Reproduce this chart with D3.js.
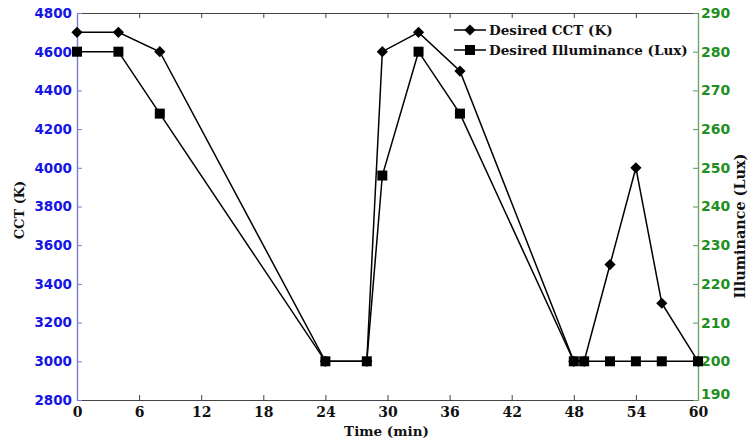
<!DOCTYPE html>
<html>
<head>
<meta charset="utf-8">
<script src="https://cdn.jsdelivr.net/npm/d3@7"></script>
<style>
  html, body { margin: 0; padding: 0; background: #fff; }
  svg { display: block; }
</style>
</head>
<body>
<svg id="chart" width="748" height="443"></svg>
<script>
// Time of each set-point (minutes)
const timeMin = [0, 4, 8, 24, 28, 29.5, 33, 37, 48, 49, 51.5, 54, 56.5, 60];
// Desired correlated colour temperature (K)
const cctK = [4700, 4700, 4600, 3000, 3000, 4600, 4700, 4500, 3000, 3000, 3500, 4000, 3300, 3000];
// Desired illuminance (lux)
const luxValues = [280, 280, 264, 200, 200, 248, 280, 264, 200, 200, 200, 200, 200, 200];

const xTicks = [0, 6, 12, 18, 24, 30, 36, 42, 48, 54, 60];
const cctTicks = [2800, 3000, 3200, 3400, 3600, 3800, 4000, 4200, 4400, 4600, 4800];
const luxTicks = [190, 200, 210, 220, 230, 240, 250, 260, 270, 280, 290];

const legendLabels = ["Desired CCT (K)", "Desired Illuminance (Lux)"];

const plot = { left: 77, right: 698, top: 13, bottom: 400 };

const svg = d3.select("#chart");

const x = d3.scaleLinear().domain([0, 60]).range([plot.left, plot.right]);
const yL = d3.scaleLinear().domain([2800, 4800]).range([plot.bottom, plot.top]);
const yR = d3.scaleLinear().domain([190, 290]).range([plot.bottom, plot.top]);

const serif = "'DejaVu Serif', 'Liberation Serif', serif";
const sans = "'DejaVu Sans', Verdana, sans-serif";
const blue = "#1515e6";
const green = "#1f8f1f";
const plain = d3.format("d");

// Bottom axis (ticks pointing inward)
const gx = svg.append("g")
  .attr("transform", `translate(0,${plot.bottom})`)
  .call(d3.axisBottom(x).tickValues(xTicks).tickFormat(plain)
    .tickSizeInner(-5).tickSizeOuter(0).tickPadding(4));
gx.select(".domain").attr("stroke", "#444").attr("stroke-width", 1.2);
gx.selectAll(".tick line").attr("stroke", "#444");
gx.selectAll(".tick text")
  .attr("font-family", serif).attr("font-weight", "bold").attr("font-size", 14)
  .attr("fill", "#111").attr("dy", "0.95em");

// Top border with mirrored ticks
const gxt = svg.append("g")
  .attr("transform", `translate(0,${plot.top})`)
  .call(d3.axisTop(x).tickValues(xTicks).tickSizeInner(-5).tickSizeOuter(0).tickFormat(""));
gxt.select(".domain").attr("stroke", "#444").attr("stroke-width", 1.2);
gxt.selectAll(".tick line").attr("stroke", "#444");

// Left axis: CCT
const gl = svg.append("g")
  .attr("transform", `translate(${plot.left},0)`)
  .call(d3.axisLeft(yL).tickValues(cctTicks).tickFormat(plain)
    .tickSizeInner(-5).tickSizeOuter(0).tickPadding(5));
gl.select(".domain").attr("stroke", "#7b7bd6").attr("stroke-width", 1.4);
gl.selectAll(".tick line").attr("stroke", "#7b7bd6");
gl.selectAll(".tick text")
  .attr("font-family", sans).attr("font-weight", "bold").attr("font-size", 13.5)
  .attr("fill", blue);

// Right axis: illuminance
const gr = svg.append("g")
  .attr("transform", `translate(${plot.right},0)`)
  .call(d3.axisRight(yR).tickValues(luxTicks).tickFormat(plain)
    .tickSizeInner(-5).tickSizeOuter(0).tickPadding(3));
gr.select(".domain").attr("stroke", "#6aa86a").attr("stroke-width", 1.4);
gr.selectAll(".tick line").attr("stroke", "#5a985a");
gr.selectAll(".tick text")
  .attr("font-family", sans).attr("font-weight", "bold").attr("font-size", 14)
  .attr("fill", green);
// lowest label sits a little above its tick, clear of the time axis labels
gr.selectAll(".tick text").filter(d => d === 190).attr("y", -6);

// Axis titles
svg.append("text")
  .attr("x", (plot.left + plot.right) / 2 - 1).attr("y", 436)
  .attr("text-anchor", "middle")
  .attr("font-family", serif).attr("font-weight", "bold").attr("font-size", 13.5)
  .attr("fill", "#111").text("Time (min)");

svg.append("text")
  .attr("transform", "translate(24,210) rotate(-90)")
  .attr("text-anchor", "middle")
  .attr("font-family", serif).attr("font-weight", "bold").attr("font-size", 13)
  .attr("fill", "#111").text("CCT (K)");

svg.append("text")
  .attr("transform", "translate(745,226) rotate(-90)")
  .attr("text-anchor", "middle")
  .attr("font-family", serif).attr("font-weight", "bold").attr("font-size", 14.4)
  .attr("fill", "#111").text("Illuminance (Lux)");

// Series lines
const cctData = timeMin.map((t, i) => ({ t, v: cctK[i] }));
const luxData = timeMin.map((t, i) => ({ t, v: luxValues[i] }));

const cctLine = d3.line().x(d => x(d.t)).y(d => yL(d.v));
const luxLine = d3.line().x(d => x(d.t)).y(d => yR(d.v));

svg.append("path").datum(luxData)
  .attr("d", luxLine).attr("fill", "none").attr("stroke", "#000").attr("stroke-width", 1.5);
svg.append("path").datum(cctData)
  .attr("d", cctLine).attr("fill", "none").attr("stroke", "#000").attr("stroke-width", 1.5);

const diamond = d3.symbol().type(d3.symbolDiamond2).size(80);
const square = d3.symbol().type(d3.symbolSquare).size(100);

svg.append("g").selectAll("path").data(luxData).join("path")
  .attr("transform", d => `translate(${x(d.t)},${yR(d.v)})`)
  .attr("d", square).attr("fill", "#000");

svg.append("g").selectAll("path").data(cctData).join("path")
  .attr("transform", d => `translate(${x(d.t)},${yL(d.v)})`)
  .attr("d", diamond).attr("fill", "#000");

// Legend
const legend = svg.append("g");
const legendSymbols = [diamond, square];
legendLabels.forEach((label, i) => {
  const ly = 30 + i * 20;
  legend.append("line")
    .attr("x1", 454).attr("x2", 486).attr("y1", ly).attr("y2", ly)
    .attr("stroke", "#000").attr("stroke-width", 1.5);
  legend.append("path")
    .attr("transform", `translate(470,${ly})`)
    .attr("d", legendSymbols[i]).attr("fill", "#000");
  legend.append("text")
    .attr("x", 489).attr("y", ly).attr("dy", "0.35em")
    .attr("font-family", serif).attr("font-weight", "bold").attr("font-size", 13.5)
    .attr("fill", "#111").text(label);
});
</script>
</body>
</html>
